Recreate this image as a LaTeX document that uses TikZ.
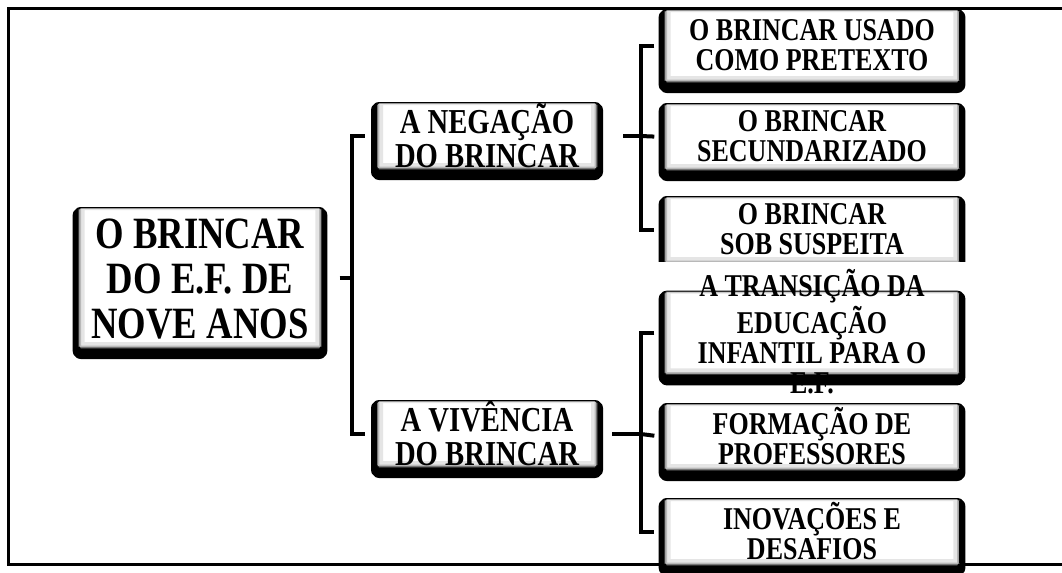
\documentclass[tikz,border=0pt]{standalone}
\usepackage{fontspec}
\setmainfont{Liberation Serif}
\usepackage{graphicx}
\usetikzlibrary{shadows}

% text of a box: tall letters, no height of its own
\newcommand{\boxtext}[1]{\smash{\raisebox{-0.45em}{\scalebox{1}[1.22]{\begin{tabular}[c]{@{}c@{}}#1\end{tabular}}}}}

\tikzset{
  topic/.style={draw=black, line width=0.6pt, fill=white, rounded corners=1.5pt, inner sep=0pt,
    font=\bfseries,
    drop shadow={shadow xshift=0pt, shadow yshift=-3.75pt, opacity=1, fill=black, draw=black,
      line width=9pt, line join=round},
    path picture={
      \draw[black!10, line width=9pt] (path picture bounding box.south west) rectangle ([yshift=3pt]path picture bounding box.north east);
      \draw[black!28, line width=3.5pt] (path picture bounding box.south west) rectangle ([yshift=2pt]path picture bounding box.north east);
    }},
  rootbox/.style={topic, minimum width=182pt, minimum height=105pt, font=\bfseries\fontsize{27.5}{27.5}\selectfont},
  midbox/.style={topic, minimum width=165pt, minimum height=49.5pt, font=\bfseries\fontsize{21.5}{20.5}\selectfont},
  leafbox/.style={topic, minimum width=221pt, minimum height=49.5pt, font=\bfseries\fontsize{19.5}{18.6}\selectfont},
  bracket/.style={line width=3pt}
}

\begin{document}
\begin{tikzpicture}[x=0.75pt,y=0.75pt,yscale=-1,xscale=1]
\useasboundingbox (0,0) rectangle (1062,572);

% Frame (its right side lies past the picture)
\draw [line width=2.25pt] (1062,8) -- (8,8) -- (8,564) -- (1062,564);

% Root
\node [rootbox] (root) at (200,278) {\boxtext{O BRINCAR\\DO E.F. DE\\NOVE ANOS}};

% Middle level
\node [midbox] (neg) at (487,136) {\boxtext{A NEGAÇÃO\\DO BRINCAR}};
\node [midbox] (viv) at (487,434) {\boxtext{A VIVÊNCIA\\DO BRINCAR}};

% Leaves of the first branch
\node [leafbox, minimum height=54pt] (usado) at (812,46) {\boxtext{O BRINCAR USADO\\COMO PRETEXTO}};
\node [leafbox] (secund) at (812,137) {\boxtext{O BRINCAR\\SECUNDARIZADO}};
\node [leafbox] (suspeita) at (812,230) {\boxtext{O BRINCAR\\SOB SUSPEITA}};
\fill [white] (655,262) rectangle (968,290);

% Leaves of the second branch
\node [leafbox, minimum height=62pt] (transicao) at (812,333) {\boxtext{A TRANSIÇÃO DA\\EDUCAÇÃO\\INFANTIL PARA O\\E.F.}};
\node [leafbox] (formacao) at (812,437) {\boxtext{FORMAÇÃO DE\\PROFESSORES}};
\node [leafbox] (inovacoes) at (812,532) {\boxtext{INOVAÇÕES E\\DESAFIOS}};

% Bracket points
\coordinate (b1) at (352,278);
\coordinate (b2) at (641,136);
\coordinate (b3) at (641,434);

% Connection
\draw [bracket, shorten <=13.5pt] (root.east) -- (root.east -| b1);
\draw [bracket, shorten <=9pt, shorten >=9pt] (neg.west) -- (neg.west -| b1) -- (viv.west -| b1) -- (viv.west);
% Connection
\draw [bracket, shorten <=19.5pt] (neg.east) -- (b2);
\draw [bracket, shorten <=7.5pt, shorten >=7.5pt] (usado.west) -- (usado.west -| b2) -- (suspeita.west -| b2) -- (suspeita.west);
\draw [bracket, shorten >=7.5pt] (b2) -- (secund.west);
% Connection
\draw [bracket, shorten <=11pt] (viv.east) -- (b3);
\draw [bracket, shorten <=7.5pt, shorten >=7.5pt] (transicao.west) -- (transicao.west -| b3) -- (inovacoes.west -| b3) -- (inovacoes.west);
\draw [bracket, shorten >=7.5pt] (b3) -- (formacao.west);

\end{tikzpicture}
\end{document}
